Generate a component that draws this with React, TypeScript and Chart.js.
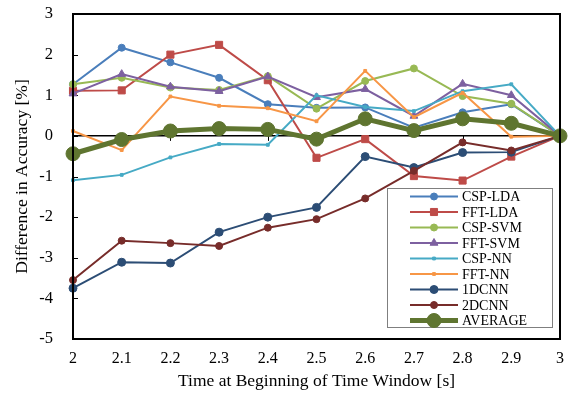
import { useEffect, useRef } from 'react';
import { Chart, registerables } from 'chart.js';
import { drawPoint } from 'chart.js/helpers';

Chart.register(...registerables);

const categories = ['2', '2.1', '2.2', '2.3', '2.4', '2.5', '2.6', '2.7', '2.8', '2.9', '3'];
const yTicks = [-5, -4, -3, -2, -1, 0, 1, 2, 3];
const zeroLineTicks = ['2.2', '2.4', '2.6', '2.8'];

const cspLda = [1.27, 2.17, 1.81, 1.43, 0.78, 0.69, 0.70, 0.20, 0.58, 0.78, 0];
const fftLda = [1.11, 1.12, 2.0, 2.24, 1.37, -0.54, -0.08, -0.99, -1.1, -0.51, 0];
const cspSvm = [1.27, 1.43, 1.19, 1.13, 1.47, 0.67, 1.35, 1.66, 0.98, 0.79, 0];
const fftSvm = [1.04, 1.52, 1.21, 1.10, 1.46, 0.95, 1.15, 0.49, 1.28, 1.0, 0];
const cspNn = [-1.09, -0.96, -0.53, -0.20, -0.22, 1.0, 0.71, 0.61, 1.10, 1.27, 0];
const fftNn = [0.12, -0.35, 0.97, 0.74, 0.68, 0.36, 1.60, 0.46, 1.06, -0.02, 0];
const cnn1d = [-3.75, -3.11, -3.13, -2.37, -2.0, -1.76, -0.51, -0.78, -0.41, -0.40, 0];
const cnn2d = [-3.55, -2.58, -2.64, -2.71, -2.26, -2.05, -1.54, -0.86, -0.16, -0.36, 0];
const average = [-0.44, -0.09, 0.12, 0.18, 0.16, -0.08, 0.42, 0.13, 0.42, 0.31, 0];

const FONT = "'Liberation Serif', 'Times New Roman', serif";

type S = { label: string; data: number[]; color: string; style: string; radius: number; width: number };
const series: S[] = [
  { label: 'CSP-LDA', data: cspLda, color: '#4A7EBB', style: 'circle', radius: 3.5, width: 2 },
  { label: 'FFT-LDA', data: fftLda, color: '#BE4B48', style: 'rect', radius: 5, width: 2 },
  { label: 'CSP-SVM', data: cspSvm, color: '#98B954', style: 'circle', radius: 3.5, width: 2 },
  { label: 'FFT-SVM', data: fftSvm, color: '#7D60A0', style: 'triangle', radius: 4.5, width: 2 },
  { label: 'CSP-NN', data: cspNn, color: '#46AAC5', style: 'rect', radius: 2, width: 2 },
  { label: 'FFT-NN', data: fftNn, color: '#F79646', style: 'rect', radius: 2, width: 2 },
  { label: '1DCNN', data: cnn1d, color: '#2C4D75', style: 'circle', radius: 4, width: 2 },
  { label: '2DCNN', data: cnn2d, color: '#772C2A', style: 'circle', radius: 3.5, width: 2 },
  { label: 'AVERAGE', data: average, color: '#5F7530', style: 'circle', radius: 7, width: 5 },
];

const framePlugin = {
  id: 'frame',
  beforeDatasetsDraw(chart: any) {
    const { ctx, chartArea: a, scales } = chart;
    const y0 = scales.y.getPixelForValue(0);
    ctx.save();
    ctx.strokeStyle = '#000';
    ctx.lineWidth = 1;
    yTicks.forEach((v) => {
      const py = Math.round(scales.y.getPixelForValue(v)) + 0.5;
      ctx.beginPath();
      ctx.moveTo(a.left, py);
      ctx.lineTo(a.left + 5, py);
      ctx.stroke();
    });
    zeroLineTicks.forEach((c) => {
      const px = Math.round(scales.x.getPixelForValue(categories.indexOf(c))) + 0.5;
      ctx.beginPath();
      ctx.moveTo(px, y0);
      ctx.lineTo(px, y0 + 5);
      ctx.stroke();
    });
    ctx.restore();
  },
  afterDraw(chart: any) {
    const { ctx, chartArea: a } = chart;
    ctx.save();
    ctx.strokeStyle = '#000';
    ctx.lineWidth = 2;
    ctx.strokeRect(a.left, a.top, a.right - a.left, a.bottom - a.top);

    const w = 165;
    const h = 139;
    const lx = a.right - 8 - w;
    const ly = a.bottom - 12 - h;
    ctx.fillStyle = '#fff';
    ctx.fillRect(lx, ly, w, h);
    ctx.strokeStyle = '#7F7F7F';
    ctx.lineWidth = 1;
    ctx.strokeRect(lx + 0.5, ly + 0.5, w, h);
    ctx.font = `14px ${FONT}`;
    ctx.textBaseline = 'middle';
    ctx.textAlign = 'left';
    series.forEach((s, i) => {
      const cy = ly + 8.5 + i * 15.5;
      ctx.strokeStyle = s.color;
      ctx.fillStyle = s.color;
      ctx.lineWidth = s.width;
      ctx.beginPath();
      ctx.moveTo(lx + 23, cy);
      ctx.lineTo(lx + 71, cy);
      ctx.stroke();
      ctx.lineWidth = 1;
      drawPoint(ctx, { pointStyle: s.style as any, radius: s.radius, rotation: 0, borderWidth: 1 }, lx + 47, cy);
      ctx.fillStyle = '#000';
      ctx.fillText(s.label, lx + 75, cy + 1);
    });
    ctx.restore();
  },
};

export default function App() {
  const ref = useRef<HTMLCanvasElement>(null);
  useEffect(() => {
    document.body.style.margin = '0';
    Chart.defaults.color = '#000';
    const chart = new Chart(ref.current!, {
      type: 'line',
      data: {
        labels: categories,
        datasets: series.map((s, i) => ({
          label: s.label,
          data: s.data,
          borderColor: s.color,
          backgroundColor: s.color,
          borderWidth: s.width,
          pointStyle: s.style as any,
          pointRadius: s.radius,
          pointBorderWidth: 1,
          pointBackgroundColor: s.color,
          pointBorderColor: s.color,
          tension: 0,
          fill: false,
          clip: false as any,
          order: s.label === 'AVERAGE' ? -1 : 10 - i,
        })),
      },
      options: {
        responsive: false,
        animation: false,
        events: [],
        layout: { padding: { top: 14, right: 10, left: 0, bottom: 0 } },
        plugins: { legend: { display: false }, tooltip: { enabled: false } },
        scales: {
          x: {
            type: 'category',
            offset: false,
            grid: { display: false, drawTicks: false },
            border: { display: false },
            ticks: { font: { family: FONT, size: 16 }, padding: 10, maxRotation: 0, autoSkip: false },
            title: {
              display: true,
              text: 'Time at Beginning of Time Window [s]',
              font: { family: FONT, size: 17.5 },
              padding: { top: 0, bottom: 5 },
            },
            afterFit: (scale: any) => {
              scale.height = 58;
              scale.paddingLeft = 0;
              scale.paddingRight = 0;
              scale.paddingTop = 0;
              scale.paddingBottom = 0;
            },
          },
          y: {
            min: -5,
            max: 3,
            ticks: { stepSize: 1, font: { family: FONT, size: 16.5 }, padding: 20 },
            grid: {
              drawTicks: false,
              color: (c: any) => (c.tick && c.tick.value === 0 ? '#000' : 'rgba(0,0,0,0)'),
              lineWidth: 1.5,
            },
            border: { display: false },
            title: {
              display: true,
              text: 'Difference in Accuracy [%]',
              font: { family: FONT, size: 17.5 },
              padding: { top: 12, bottom: 0 },
            },
            afterFit: (scale: any) => {
              scale.width = 73;
              scale.paddingLeft = 0;
              scale.paddingRight = 0;
              scale.paddingTop = 0;
              scale.paddingBottom = 0;
            },
          },
        },
      },
      plugins: [framePlugin],
    });
    return () => chart.destroy();
  }, []);
  return (
    <div style={{ width: 570, height: 397 }}>
      <canvas ref={ref} width={570} height={397} />
    </div>
  );
}
